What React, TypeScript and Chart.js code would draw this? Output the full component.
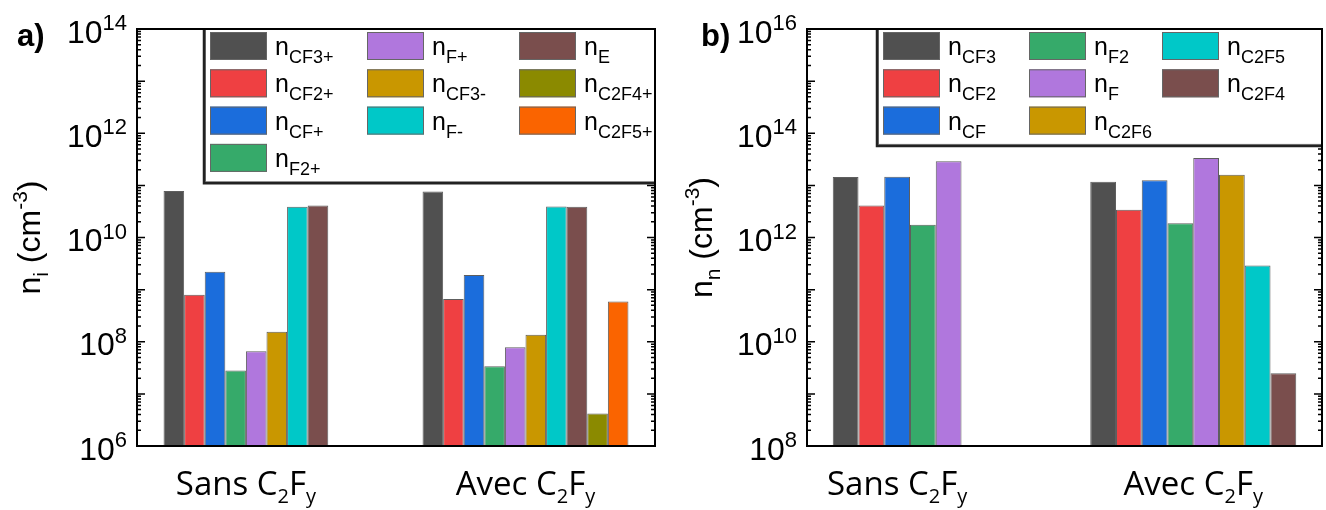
import React, { useEffect, useRef } from 'react';
import { Chart, registerables } from 'chart.js';

Chart.register(...registerables);

// ---------- data ----------
const categories = ['Sans', 'Avec'];

// panel a: ion densities (cm^-3)
const ionNames = ['CF3+', 'CF2+', 'CF+', 'F2+', 'F+', 'CF3-', 'F-', 'E', 'C2F4+', 'C2F5+'];
const nCF3p = [7.8e10, 7.6e10];
const nCF2p = [8.0e8, 6.6e8];
const nCFp = [2.2e9, 1.9e9];
const nF2p = [2.8e7, 3.4e7];
const nFp = [6.6e7, 7.8e7];
const nCF3m = [1.56e8, 1.36e8];
const nFm = [3.9e10, 3.95e10];
const nE = [4.1e10, 3.9e10];
const nC2F4p = [null, 4.2e6];
const nC2F5p = [null, 5.9e8];
const ionTicks = [1e6, 1e8, 1e10, 1e12, 1e14];

// panel b: neutral densities (cm^-3)
const neutralNames = ['CF3', 'CF2', 'CF', 'F2', 'F', 'C2F6', 'C2F5', 'C2F4'];
const nCF3 = [1.44e13, 1.17e13];
const nCF2 = [4.1e12, 3.4e12];
const nCF = [1.47e13, 1.26e13];
const nF2 = [1.75e12, 1.88e12];
const nF = [2.9e13, 3.35e13];
const nC2F6 = [null, 1.6e13];
const nC2F5 = [null, 2.9e11];
const nC2F4 = [null, 2.5e9];
const neutralTicks = [1e8, 1e10, 1e12, 1e14, 1e16];

// ---------- styles ----------
const C_GRAY = '#505050';
const C_RED = '#ef4042';
const C_BLUE = '#1b6ddc';
const C_GREEN = '#36aa6a';
const C_PURPLE = '#b077dd';
const C_GOLD = '#c99700';
const C_CYAN = '#00c8c8';
const C_BROWN = '#7a4e4d';
const C_OLIVE = '#8b8a00';
const C_ORANGE = '#fa6400';

const FONT = '"Liberation Sans", Arial, sans-serif';
const XFONT = '"Open Sans", sans-serif';

type Seg = { t: string; size: number; dy: number; bold?: boolean; family?: string };

function setFont(ctx: CanvasRenderingContext2D, s: Seg) {
  ctx.font = `${s.bold ? 'bold ' : ''}${s.size}px ${s.family || FONT}`;
}
function segsWidth(ctx: CanvasRenderingContext2D, segs: Seg[]) {
  let w = 0;
  for (const s of segs) {
    setFont(ctx, s);
    w += ctx.measureText(s.t).width;
  }
  return w;
}
function drawSegs(ctx: CanvasRenderingContext2D, segs: Seg[], x: number, y: number) {
  let cx = x;
  ctx.textAlign = 'left';
  ctx.textBaseline = 'alphabetic';
  for (const s of segs) {
    setFont(ctx, s);
    ctx.fillText(s.t, cx, y + s.dy);
    cx += ctx.measureText(s.t).width;
  }
}

interface PanelCfg {
  letter: string;
  letterX: number;
  names: string[];
  series: (number | null)[][];
  colors: string[];
  ticks: number[];
  titleSub: string;
  titleX: number;
  padding: { left: number; right: number; top: number; bottom: number };
  catPct: number;
  legendLeft: number;
  legendCols: number[][];
  legendColX: number[];
}

const panelA: PanelCfg = {
  letter: 'a)',
  letterX: 17,
  names: ionNames,
  series: [nCF3p, nCF2p, nCFp, nF2p, nFp, nCF3m, nFm, nE, nC2F4p, nC2F5p],
  colors: [C_GRAY, C_RED, C_BLUE, C_GREEN, C_PURPLE, C_GOLD, C_CYAN, C_BROWN, C_OLIVE, C_ORANGE],
  ticks: ionTicks,
  titleSub: 'i',
  titleX: 40,
  padding: { left: 137, right: 8, top: 29, bottom: 64 },
  catPct: 0.795,
  legendLeft: 205,
  legendCols: [[0, 1, 2, 3], [4, 5, 6], [7, 8, 9]],
  legendColX: [5, 162, 314],
};

const panelB: PanelCfg = {
  letter: 'b)',
  letterX: 38,
  names: neutralNames,
  series: [nCF3, nCF2, nCF, nF2, nF, nC2F6, nC2F5, nC2F4],
  colors: [C_GRAY, C_RED, C_BLUE, C_GREEN, C_PURPLE, C_GOLD, C_CYAN, C_BROWN],
  ticks: neutralTicks,
  titleSub: 'n',
  titleX: 49,
  padding: { left: 144, right: 4, top: 29, bottom: 64 },
  catPct: 0.8,
  legendLeft: 215,
  legendCols: [[0, 1, 2], [3, 4, 5], [6, 7]],
  legendColX: [5, 151, 284],
};

function makeDecor(cfg: PanelCfg) {
  return {
    id: 'decor',
    afterDraw(chart: any) {
      const ctx: CanvasRenderingContext2D = chart.ctx;
      const a = chart.chartArea;
      const ys = chart.scales.y;
      ctx.save();
      ctx.fillStyle = '#000';
      ctx.strokeStyle = '#000';

      // ticks (inward, left & right)
      const minE = Math.round(Math.log10(cfg.ticks[0]));
      const maxE = Math.round(Math.log10(cfg.ticks[cfg.ticks.length - 1]));
      ctx.lineWidth = 1.5;
      for (let e = minE; e <= maxE; e++) {
        const y = ys.getPixelForValue(Math.pow(10, e));
        ctx.beginPath();
        ctx.moveTo(a.left, y); ctx.lineTo(a.left + 8, y);
        ctx.moveTo(a.right, y); ctx.lineTo(a.right - 8, y);
        ctx.stroke();
        if (e < maxE) {
          for (let k = 2; k <= 9; k++) {
            const ym = ys.getPixelForValue(k * Math.pow(10, e));
            ctx.beginPath();
            ctx.moveTo(a.left, ym); ctx.lineTo(a.left + 4, ym);
            ctx.moveTo(a.right, ym); ctx.lineTo(a.right - 4, ym);
            ctx.stroke();
          }
        }
      }

      // tick labels 10^n
      for (const v of cfg.ticks) {
        const e = Math.round(Math.log10(v));
        const y = ys.getPixelForValue(v);
        const segs: Seg[] = [
          { t: '10', size: 32, dy: 0 },
          { t: String(e), size: 22, dy: -12.5 },
        ];
        const w = segsWidth(ctx, segs);
        drawSegs(ctx, segs, a.left - 10 - w, y + 13.5);
      }

      // legend
      const lTop = a.top;
      const rows = Math.max(...cfg.legendCols.map((c) => c.length));
      const pitch = 37.3;
      const lBottom = lTop + 3 + rows * pitch + 1;
      const lLeft = cfg.legendLeft;
      const lRight = a.right;
      ctx.fillStyle = '#fff';
      ctx.fillRect(lLeft, lTop, lRight - lLeft, lBottom - lTop);
      ctx.strokeStyle = '#777';
      ctx.lineWidth = 1;
      ctx.strokeRect(lLeft + 0.5, lTop + 0.5, lRight - lLeft - 1, lBottom - lTop - 1);
      ctx.strokeStyle = '#222';
      ctx.lineWidth = 2.5;
      ctx.beginPath();
      ctx.moveTo(lLeft - 1, lTop);
      ctx.lineTo(lLeft - 1, lBottom + 1);
      ctx.lineTo(lRight, lBottom + 1);
      ctx.stroke();
      cfg.legendCols.forEach((col, ci) => {
        col.forEach((di, ri) => {
          const sx = lLeft + cfg.legendColX[ci];
          const sy = lTop + 3 + ri * pitch;
          ctx.fillStyle = cfg.colors[di];
          ctx.fillRect(sx, sy, 57, 28);
          ctx.strokeStyle = '#666';
          ctx.lineWidth = 1;
          ctx.strokeRect(sx + 0.5, sy + 0.5, 56, 27);
          ctx.fillStyle = '#000';
          drawSegs(ctx, [
            { t: 'n', size: 25, dy: 0 },
            { t: cfg.names[di], size: 18, dy: 8 },
          ], sx + 65, sy + 23);
        });
      });

      // frame
      ctx.strokeStyle = '#000';
      ctx.lineWidth = 2;
      ctx.strokeRect(a.left, a.top, a.right - a.left, a.bottom - a.top);

      // category labels, centred on visible bars
      ctx.fillStyle = '#000';
      categories.forEach((cat, j) => {
        let lo = Infinity, hi = -Infinity;
        cfg.series.forEach((s, i) => {
          if (s[j] == null) return;
          const el = chart.getDatasetMeta(i).data[j];
          const p = el.getProps(['x', 'width'], true);
          lo = Math.min(lo, p.x - p.width / 2);
          hi = Math.max(hi, p.x + p.width / 2);
        });
        const segs: Seg[] = [
          { t: `${cat} C`, size: 33, dy: 0, family: XFONT },
          { t: '2', size: 20, dy: 8, family: XFONT },
          { t: 'F', size: 33, dy: 0, family: XFONT },
          { t: 'y', size: 20, dy: 8, family: XFONT },
        ];
        const w = segsWidth(ctx, segs);
        drawSegs(ctx, segs, (lo + hi) / 2 - w / 2, a.bottom + 49);
      });

      // y title
      const tSegs: Seg[] = [
        { t: 'n', size: 32, dy: 0 },
        { t: cfg.titleSub, size: 21, dy: 8 },
        { t: ' (cm', size: 32, dy: 0 },
        { t: '-3', size: 21, dy: -13 },
        { t: ')', size: 32, dy: 0 },
      ];
      const tw = segsWidth(ctx, tSegs);
      ctx.save();
      ctx.translate(cfg.titleX, (a.top + a.bottom) / 2);
      ctx.rotate(-Math.PI / 2);
      drawSegs(ctx, tSegs, -tw / 2, 0);
      ctx.restore();

      // panel letter
      drawSegs(ctx, [{ t: cfg.letter, size: 31, dy: 0, bold: true }], cfg.letterX, 46);

      ctx.restore();
    },
  };
}

function Panel({ cfg }: { cfg: PanelCfg }) {
  const ref = useRef<HTMLCanvasElement>(null);
  useEffect(() => {
    const chart = new Chart(ref.current as HTMLCanvasElement, {
      type: 'bar',
      data: {
        labels: categories,
        datasets: cfg.series.map((s, i) => ({
          label: cfg.names[i],
          data: s as any,
          backgroundColor: cfg.colors[i],
          borderColor: '#5e5e5e',
          borderWidth: 1,
          barPercentage: 1,
          categoryPercentage: cfg.catPct,
        })),
      },
      options: {
        responsive: false,
        animation: false,
        devicePixelRatio: 1,
        layout: { padding: cfg.padding },
        plugins: { legend: { display: false }, tooltip: { enabled: false } },
        scales: {
          x: { type: 'category', display: false, offset: true },
          y: {
            type: 'logarithmic',
            display: false,
            min: cfg.ticks[0],
            max: cfg.ticks[cfg.ticks.length - 1],
          },
        },
      },
      plugins: [makeDecor(cfg)],
    });
    return () => chart.destroy();
  }, [cfg]);
  return (
    <canvas
      ref={ref}
      width={663}
      height={510}
      style={{ display: 'block', width: 663, height: 510 }}
    />
  );
}

export default function App() {
  return (
    <div
      style={{
        position: 'absolute',
        left: 0,
        top: 0,
        width: 1326,
        height: 510,
        display: 'flex',
        background: '#fff',
      }}
    >
      <Panel cfg={panelA} />
      <Panel cfg={panelB} />
    </div>
  );
}
